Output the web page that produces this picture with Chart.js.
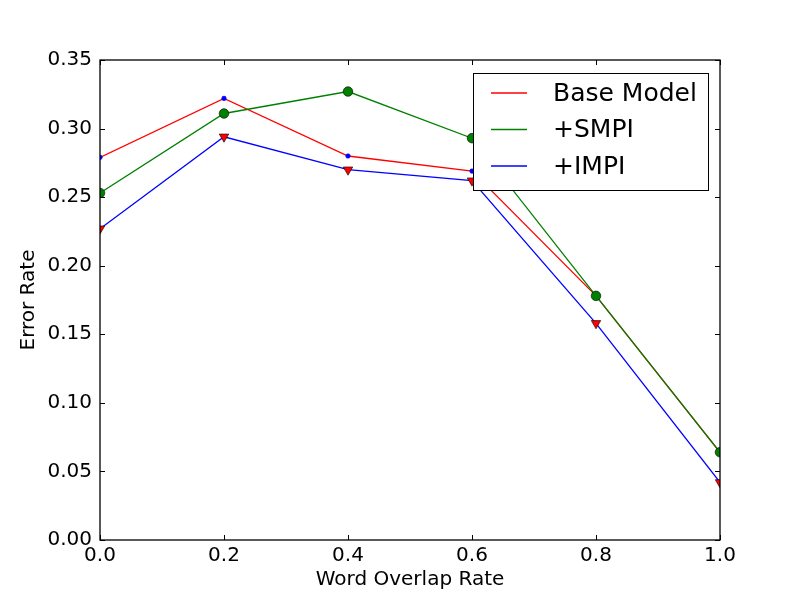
<!DOCTYPE html>
<html>
<head>
<meta charset="utf-8">
<script src="https://cdn.jsdelivr.net/npm/chart.js@4.4.0/dist/chart.umd.min.js"></script>
<style>
  html, body { margin: 0; padding: 0; background: #fff; }
  #wrap { width: 800px; height: 600px; }
</style>
</head>
<body>
<div id="wrap"><canvas id="errorChart" width="800" height="600"></canvas></div>
<script>
// values
var overlapRates = [0.0, 0.2, 0.4, 0.6, 0.8, 1.0];
var baseModel = [0.279, 0.322, 0.280, 0.269, 0.178, 0.064];
var smpi = [0.253, 0.311, 0.327, 0.293, 0.178, 0.064];
var impi = [0.227, 0.294, 0.270, 0.262, 0.158, 0.042];
var seriesNames = ['Base Model', '+SMPI', '+IMPI'];
var xTicks = [0.0, 0.2, 0.4, 0.6, 0.8, 1.0];
var yTicks = [0.00, 0.05, 0.10, 0.15, 0.20, 0.25, 0.30, 0.35];

var FONT = "'DejaVu Sans', sans-serif";

function toPoints(values) {
  return overlapRates.map(function(x, i) { return { x: x, y: values[i] }; });
}

// frame with inward ticks on all four sides, like matplotlib classic
var framePlugin = {
  id: 'frame',
  afterDatasetsDraw: function(chart) {
    var ctx = chart.ctx;
    var a = chart.chartArea;
    var xs = chart.scales.x, ys = chart.scales.y;
    var len = 5;
    ctx.save();
    ctx.strokeStyle = '#000';
    ctx.lineWidth = 1;
    ctx.beginPath();
    xTicks.forEach(function(v) {
      var px = Math.round(xs.getPixelForValue(v)) + 0.5;
      ctx.moveTo(px, a.bottom); ctx.lineTo(px, a.bottom - len);
      ctx.moveTo(px, a.top); ctx.lineTo(px, a.top + len);
    });
    yTicks.forEach(function(v) {
      var py = Math.round(ys.getPixelForValue(v)) + 0.5;
      ctx.moveTo(a.left, py); ctx.lineTo(a.left + len, py);
      ctx.moveTo(a.right, py); ctx.lineTo(a.right - len, py);
    });
    ctx.stroke();
    ctx.lineWidth = 1.3;
    ctx.strokeRect(a.left, a.top, a.right - a.left, a.bottom - a.top);
    ctx.restore();
  }
};

// legend box inside the upper right of the plot area
var legendPlugin = {
  id: 'innerLegend',
  afterDraw: function(chart) {
    var ctx = chart.ctx;
    var a = chart.chartArea;
    var w = 235, h = 117;
    var left = a.right - 12 - w, top = a.top + 13;
    ctx.save();
    ctx.fillStyle = '#fff';
    ctx.fillRect(left, top, w, h);
    ctx.strokeStyle = '#000';
    ctx.lineWidth = 1;
    ctx.strokeRect(left + 0.5, top + 0.5, w, h);
    ctx.font = '25px ' + FONT;
    ctx.textBaseline = 'middle';
    ctx.textAlign = 'left';
    chart.data.datasets.forEach(function(ds, i) {
      var y = top + 20 + i * 36.5;
      ctx.strokeStyle = ds.borderColor;
      ctx.lineWidth = 1.3;
      ctx.beginPath();
      ctx.moveTo(left + 18, y);
      ctx.lineTo(left + 54, y);
      ctx.stroke();
      ctx.fillStyle = '#000';
      ctx.fillText(ds.label, left + 80, y + 1);
    });
    ctx.restore();
  }
};

var ctx = document.getElementById('errorChart').getContext('2d');
var chart = new Chart(ctx, {
  type: 'line',
  data: {
    datasets: [{
      label: seriesNames[0],
      data: toPoints(baseModel),
      borderColor: '#ff0000',
      borderWidth: 1.3,
      pointStyle: 'circle',
      pointRadius: 2.3,
      pointBackgroundColor: '#0000ff',
      pointBorderColor: '#0000ff',
      pointBorderWidth: 0.5,
      order: 3,
      clip: 0
    }, {
      label: seriesNames[1],
      data: toPoints(smpi),
      borderColor: '#008000',
      borderWidth: 1.3,
      pointStyle: 'circle',
      pointRadius: 4.8,
      pointBackgroundColor: '#008000',
      pointBorderColor: '#000',
      pointBorderWidth: 0.6,
      order: 2,
      clip: 0
    }, {
      label: seriesNames[2],
      data: toPoints(impi),
      borderColor: '#0000ff',
      borderWidth: 1.3,
      pointStyle: 'triangle',
      rotation: 180,
      pointRadius: 5.5,
      pointBackgroundColor: '#ff0000',
      pointBorderColor: '#000',
      pointBorderWidth: 0.6,
      order: 1,
      clip: 0
    }]
  },
  options: {
    responsive: false,
    animation: false,
    devicePixelRatio: 1,
    layout: { padding: { left: 0, right: 80, top: 60, bottom: 0 } },
    elements: { line: { tension: 0 } },
    plugins: {
      legend: { display: false },
      tooltip: { enabled: false }
    },
    scales: {
      x: {
        type: 'linear',
        min: 0,
        max: 1,
        afterFit: function(scale) { scale.height = 60; },
        afterBuildTicks: function(scale) {
          scale.ticks = xTicks.map(function(v) { return { value: v }; });
        },
        grid: { display: false, drawTicks: false },
        border: { display: false },
        ticks: {
          padding: 4,
          color: '#000',
          font: { family: FONT, size: 20 },
          maxRotation: 0,
          callback: function(v) { return Number(v).toFixed(1); }
        },
        title: {
          display: true,
          text: 'Word Overlap Rate',
          color: '#000',
          font: { family: FONT, size: 20 },
          padding: { top: 0, bottom: 8 }
        }
      },
      y: {
        type: 'linear',
        min: 0,
        max: 0.35,
        afterFit: function(scale) { scale.width = 100; },
        afterBuildTicks: function(scale) {
          scale.ticks = yTicks.map(function(v) { return { value: v }; });
        },
        grid: { display: false, drawTicks: false },
        border: { display: false },
        ticks: {
          padding: 8,
          color: '#000',
          font: { family: FONT, size: 20 },
          callback: function(v) { return Number(v).toFixed(2); }
        },
        title: {
          display: true,
          text: 'Error Rate',
          color: '#000',
          font: { family: FONT, size: 20 },
          padding: { top: 17, bottom: 0 }
        }
      }
    }
  },
  plugins: [framePlugin, legendPlugin]
});
</script>
</body>
</html>
